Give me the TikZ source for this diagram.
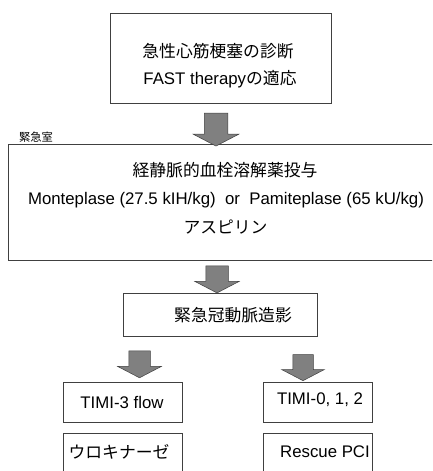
\documentclass[tikz,border=0pt]{standalone}
\usepackage{fontspec}
\setmainfont{Liberation Sans}
\newfontfamily\jp{Noto Sans CJK JP}
\usetikzlibrary{shapes.arrows}

\begin{document}
\begin{tikzpicture}[x=1pt, y=-1pt,
        font=\fontsize{16.8}{20}\selectfont,
        box/.style={draw=black!75, line width=0.8pt},
        downarrow/.style={single arrow, draw=black!75, fill=black!50, line width=0.5pt,
            rotate=-90, inner xsep=0pt, single arrow tip angle=125,
            single arrow head extend=11pt}]
            % Frame
            \useasboundingbox (0,0) rectangle (432,471);
            \clip (0,0) rectangle (432,471);

            % Boxes
            \node[box, minimum width=221, minimum height=90] (diag) at (220.5,58) {};
            \node[box, minimum width=440, minimum height=116] (er) at (228,202) {};
            \node[box, minimum width=194, minimum height=43] (cag) at (220,314.5) {};
            \node[box, minimum width=119, minimum height=40] (timi3) at (122.5,402) {};
            \node[box, minimum width=119, minimum height=50] (uk) at (122.5,458) {};
            \node[box, minimum width=109, minimum height=40] (timi0) at (317.5,402) {};
            \node[box, minimum width=109, minimum height=50] (pci) at (317.5,458) {};

            % Texts
            \node (diagA) at (218,51) {\jp 急性心筋梗塞の診断};
            \node (diagB) at (220,79) {FAST therapy{\jp の適応}};
            \node[font=\jp\fontsize{11.3}{13}\selectfont] (room) at (36,137) {緊急室};
            \node (erA) at (225,170) {\jp 経静脈的血栓溶解薬投与};
            \node (erB) at (226,200) {Monteplase (27.5 kIH/kg)\ \ or\ \ Pamiteplase (65 kU/kg)};
            \node (erC) at (225.5,227) {\jp アスピリン};
            \node (cagT) at (233,315) {\jp 緊急冠動脈造影};
            \node (timi3T) at (122,402) {TIMI-3 flow};
            \node (ukT) at (119,452) {\jp ウロキナーゼ};
            \node (timi0T) at (320,400) {TIMI-0, 1, 2};
            \node (pciT) at (325,452) {Rescue PCI};

            % Arrows
            \node[downarrow, minimum height=33, inner ysep=11.5] (arr1) at (216,126.5) {};
            \node[downarrow, minimum height=27, inner ysep=11] (arr2) at (217,276.5) {};
            \node[downarrow, minimum height=27, inner ysep=10.5] (arr3) at (139.5,361.5) {};
            \node[downarrow, minimum height=26, inner ysep=10] (arr4) at (303,365) {};
        \end{tikzpicture}
\end{document}
